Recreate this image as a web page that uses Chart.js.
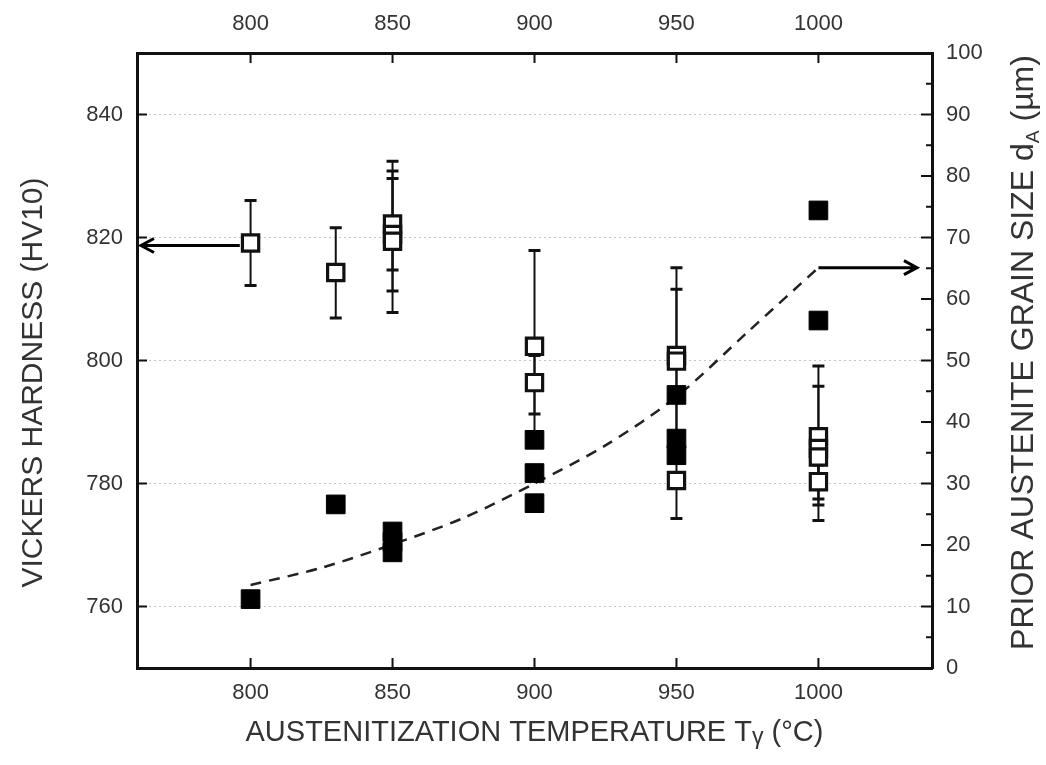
<!DOCTYPE html>
<html>
<head>
<meta charset="utf-8">
<script src="https://cdn.jsdelivr.net/npm/chart.js@4.4.1/dist/chart.umd.min.js"></script>
<style>
  body { margin: 0; background: #fff; }
  #wrap { width: 1046px; height: 765px; }
</style>
</head>
<body>
<div id="wrap"><canvas id="myChart"></canvas></div>
<script>
// tick labels
const tempTicks = [800, 850, 900, 950, 1000];
const hardnessTicks = [760, 780, 800, 820, 840];
const grainTicks = [0, 10, 20, 30, 40, 50, 60, 70, 80, 90, 100];
const grainMinorTicks = [5, 15, 25, 35, 45, 55, 65, 75, 85, 95];

// vickers hardness (open squares, left axis) with error bars
const hardTemp     = [800,   830,   850,   850,   850,   900,   900,   950,   950,   950,   1000,  1000,  1000,  1000];
const hardness     = [819.1, 814.3, 822.2, 820.5, 819.4, 802.3, 796.4, 800.8, 799.9, 780.5, 787.6, 785.7, 784.3, 780.3];
const hardnessHigh = [826.0, 821.6, 832.4, 830.8, 829.6, 817.9, 800.8, 815.1, 811.6, 786.0, 799.1, 795.8, 788.0, 783.0];
const hardnessLow  = [812.2, 806.9, 807.8, 811.3, 814.7, 786.7, 791.3, 785.5, 786.4, 774.3, 776.5, 774.0, 781.0, 777.5];

// prior austenite grain size (filled squares, right axis)
const grainTemp = [800,  830,  850,  850,  850,  900,  900,  900,  950,  950,  950,  1000, 1000];
const grainSize = [11.2, 26.6, 22.2, 20.5, 18.8, 37.1, 31.7, 26.8, 44.4, 37.3, 34.6, 74.4, 56.5];

// dashed trend of grain size
const fitTemp  = [800,  825,  850,  875,  900,  925,  950,  975,  1000];
const fitGrain = [13.5, 16.3, 20.1, 24.4, 30.0, 36.2, 44.1, 54.6, 65.1];

const FONT = '"Liberation Sans", Arial, sans-serif';
const INK = '#111';
const TEXT = '#333';

function drawSegments(ctx, segs, cx, cy, angle, size) {
    ctx.save();
    ctx.translate(cx, cy);
    ctx.rotate(angle);
    ctx.textAlign = 'left';
    ctx.textBaseline = 'alphabetic';
    ctx.fillStyle = TEXT;
    let total = 0;
    segs.forEach(s => {
        ctx.font = `${size * (s.s || 1)}px ${FONT}`;
        s.w = ctx.measureText(s.t).width;
        total += s.w;
    });
    let x = -total / 2;
    segs.forEach(s => {
        ctx.font = `${size * (s.s || 1)}px ${FONT}`;
        ctx.fillText(s.t, x, size * 0.36 + (s.dy || 0));
        x += s.w;
    });
    ctx.restore();
}

function arrow(ctx, x1, y, x2) {
    const dir = x1 > x2 ? 1 : -1;
    ctx.beginPath();
    ctx.moveTo(x1, y);
    ctx.lineTo(x2, y);
    ctx.moveTo(x2 + dir * 13, y - 7);
    ctx.lineTo(x2, y);
    ctx.lineTo(x2 + dir * 13, y + 7);
    ctx.stroke();
}

const decor = {
    id: 'decor',
    beforeDatasetsDraw(chart) {
        const ctx = chart.ctx;
        const x = chart.scales.x, y = chart.scales.y;
        ctx.save();
        ctx.strokeStyle = INK;
        for (let i = 0; i < hardTemp.length; i++) {
            const px = x.getPixelForValue(hardTemp[i]);
            const top = y.getPixelForValue(hardnessHigh[i]);
            const bot = y.getPixelForValue(hardnessLow[i]);
            ctx.lineWidth = 2;
            ctx.beginPath();
            ctx.moveTo(px, top);
            ctx.lineTo(px, bot);
            ctx.stroke();
            ctx.lineWidth = 3;
            ctx.beginPath();
            ctx.moveTo(px - 6, top); ctx.lineTo(px + 6, top);
            ctx.moveTo(px - 6, bot); ctx.lineTo(px + 6, bot);
            ctx.stroke();
        }
        ctx.restore();
    },
    afterDraw(chart) {
        const ctx = chart.ctx;
        const {left, right, top, bottom} = chart.chartArea;
        const x = chart.scales.x, y = chart.scales.y, y2 = chart.scales.y2;
        ctx.save();
        ctx.strokeStyle = INK;
        ctx.lineWidth = 2;
        // inward tick marks
        ctx.beginPath();
        tempTicks.forEach(v => {
            const px = x.getPixelForValue(v);
            ctx.moveTo(px, bottom); ctx.lineTo(px, bottom - 10);
            ctx.moveTo(px, top); ctx.lineTo(px, top + 10);
        });
        hardnessTicks.forEach(v => {
            const py = y.getPixelForValue(v);
            ctx.moveTo(left, py); ctx.lineTo(left + 10, py);
        });
        grainTicks.forEach(v => {
            const py = y2.getPixelForValue(v);
            ctx.moveTo(right, py); ctx.lineTo(right - 11, py);
        });
        grainMinorTicks.forEach(v => {
            const py = y2.getPixelForValue(v);
            ctx.moveTo(right, py); ctx.lineTo(right - 6, py);
        });
        ctx.stroke();

        // arrows pointing to each axis
        ctx.lineWidth = 3;
        ctx.strokeStyle = '#000';
        arrow(ctx, x.getPixelForValue(796.2), y.getPixelForValue(818.7), x.getPixelForValue(761.4));
        arrow(ctx, x.getPixelForValue(1000), y2.getPixelForValue(65.1), x.getPixelForValue(1034.7));
        ctx.restore();

        // axis titles
        const midY = (top + bottom) / 2;
        drawSegments(ctx, [{t: 'VICKERS HARDNESS (HV10)'}], left - 106, midY + 22, -Math.PI / 2, 30);
        drawSegments(ctx, [
            {t: 'AUSTENITIZATION TEMPERATURE T'},
            {t: 'γ', s: 0.8, dy: 3},
            {t: ' (°C)'}
        ], (left + right) / 2, bottom + 63, 0, 29);
        drawSegments(ctx, [
            {t: 'PRIOR AUSTENITE GRAIN SIZE d'},
            {t: 'A', s: 0.6, dy: 6},
            {t: ' (µm)'}
        ], right + 89, midY - 8, -Math.PI / 2, 32);
    }
};

const tickFont = {family: FONT, size: 22};
const plainLabel = v => String(v);

function createChart() {
    const ctx = document.getElementById('myChart').getContext('2d');
    return new Chart(ctx, {
        data: {
            datasets: [{
                type: 'scatter',
                label: 'Hardness',
                data: hardTemp.map((t, i) => ({x: t, y: hardness[i]})),
                yAxisID: 'y',
                pointStyle: 'rect',
                pointRadius: 11.5,
                backgroundColor: '#fff',
                borderColor: INK,
                borderWidth: 3.2,
                order: 0
            }, {
                type: 'scatter',
                label: 'Grain size',
                data: grainTemp.map((t, i) => ({x: t, y: grainSize[i]})),
                yAxisID: 'y2',
                pointStyle: 'rect',
                pointRadius: 13.2,
                backgroundColor: '#000',
                borderColor: '#000',
                borderWidth: 1,
                order: 1
            }, {
                type: 'line',
                label: 'Trend',
                data: fitTemp.map((t, i) => ({x: t, y: fitGrain[i]})),
                yAxisID: 'y2',
                borderColor: '#222',
                borderWidth: 2.5,
                borderDash: [11, 8],
                pointRadius: 0,
                tension: 0.3,
                fill: false,
                order: 2
            }]
        },
        options: {
            responsive: true,
            maintainAspectRatio: false,
            animation: false,
            layout: {padding: 0},
            plugins: {legend: {display: false}, tooltip: {enabled: false}},
            scales: {
                x: {
                    type: 'linear', position: 'bottom', min: 760, max: 1040,
                    afterBuildTicks: s => { s.ticks = tempTicks.map(v => ({value: v})); },
                    afterFit: s => { s.height = 97; },
                    grid: {display: false, drawTicks: false},
                    border: {color: INK, width: 3},
                    ticks: {font: tickFont, color: TEXT, padding: 12, callback: plainLabel}
                },
                x2: {
                    type: 'linear', position: 'top', min: 760, max: 1040,
                    afterBuildTicks: s => { s.ticks = tempTicks.map(v => ({value: v})); },
                    afterFit: s => { s.height = 53; },
                    grid: {display: false, drawTicks: false},
                    border: {color: INK, width: 3},
                    ticks: {font: tickFont, color: TEXT, padding: 16, callback: plainLabel}
                },
                y: {
                    type: 'linear', position: 'left', min: 750, max: 850,
                    afterBuildTicks: s => { s.ticks = hardnessTicks.map(v => ({value: v})); },
                    afterFit: s => { s.width = 137; },
                    grid: {color: '#c4c4c4', lineWidth: 1, drawTicks: false},
                    border: {color: INK, width: 3, dash: [2, 3]},
                    ticks: {font: tickFont, color: TEXT, padding: 14, callback: plainLabel}
                },
                y2: {
                    type: 'linear', position: 'right', min: 0, max: 100,
                    afterBuildTicks: s => { s.ticks = grainTicks.map(v => ({value: v})); },
                    afterFit: s => { s.width = 114; },
                    grid: {display: false, drawTicks: false},
                    border: {color: INK, width: 3},
                    ticks: {font: tickFont, color: TEXT, padding: 14, callback: plainLabel}
                }
            }
        },
        plugins: [decor]
    });
}

createChart();
</script>
</body>
</html>
